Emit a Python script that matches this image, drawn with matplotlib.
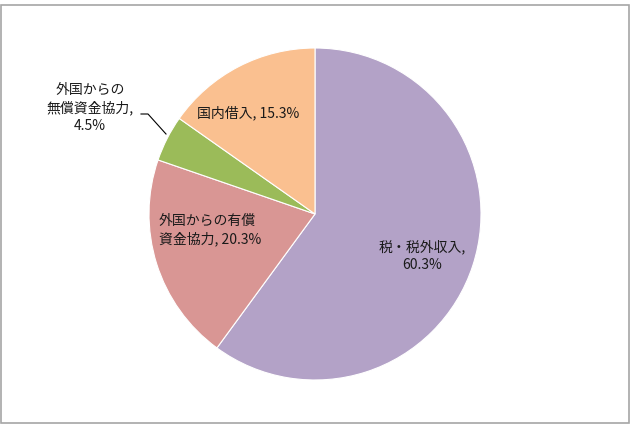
import matplotlib.pyplot as plt
from matplotlib.patches import Rectangle

plt.rcParams['font.family'] = ['Noto Sans CJK JP', 'DejaVu Sans']

labels = ['税・税外収入', '外国からの有償資金協力', '外国からの無償資金協力', '国内借入']
values = [60.3, 20.3, 4.5, 15.3]
colors = ['#B3A2C7', '#D99694', '#9BBB59', '#FAC090']

# label text as shown in the chart (line breaks as in the reference)
texts = ['税・税外収入,\n60.3%', '外国からの有償\n資金協力, 20.3%',
         '外国からの\n無償資金協力,\n4.5%', '国内借入, 15.3%']

W, H = 633, 429
fig = plt.figure(figsize=(W / 100, H / 100), dpi=100)
ax = fig.add_axes([0, 0, 1, 1])

cx, cy, r = 315, H - 214, 166
ax.pie(values, colors=colors, startangle=90, counterclock=False,
       center=(cx, cy), radius=r, frame=True,
       wedgeprops=dict(edgecolor='white', linewidth=0.8))
ax.set_xlim(0, W)
ax.set_ylim(0, H)
ax.set_aspect('equal')
ax.axis('off')

fs = 10
ax.text(422, H - 256, texts[0], ha='center', va='center', fontsize=fs,
        color='#1a1a1a', linespacing=1.35)
ax.text(159, H - 230, texts[1], ha='left', va='center', fontsize=fs,
        color='#1a1a1a', linespacing=1.35)
ax.text(90, H - 108, texts[2], ha='center', va='center', fontsize=fs,
        color='#1a1a1a', linespacing=1.3)
ax.text(248, H - 113, texts[3], ha='center', va='center', fontsize=fs,
        color='#1a1a1a')

# leader line for the small slice
ax.plot([141, 148, 166], [H - 114, H - 114, H - 134], color='black', lw=0.8)

# chart area border
ax.add_patch(Rectangle((1, H - 423), 628, 418, fill=False,
                       edgecolor='#A6A6A6', lw=1.2))

plt.savefig('out.png', dpi=100)
